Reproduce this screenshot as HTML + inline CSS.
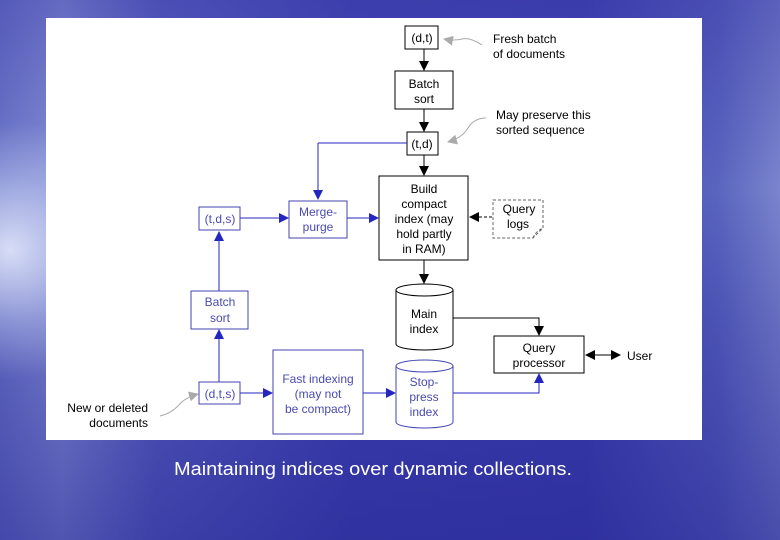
<!DOCTYPE html>
<html><head><meta charset="utf-8"><style>
html,body{margin:0;padding:0;width:780px;height:540px;overflow:hidden}
body{background:linear-gradient(90deg,#6c78c8 0%,#8d98d8 8%,#5a63c0 20%,#3c40b0 45%,#3a3cae 75%,#5560bc 92%,#7b86cc 100%);}
.bg2{position:absolute;left:0;top:0;width:780px;height:540px;background:linear-gradient(180deg,rgba(60,60,170,0.5) 0%,rgba(120,130,210,0.15) 35%,rgba(50,50,160,0.3) 60%,rgba(40,40,150,0.6) 100%)}
.glow{position:absolute;left:-120px;top:120px;width:260px;height:260px;background:radial-gradient(ellipse at center,rgba(235,240,255,0.85) 0%,rgba(200,210,245,0.4) 40%,rgba(150,160,230,0) 70%)}
svg{position:absolute;left:0;top:0}
text{font-family:"Liberation Sans",sans-serif;font-size:12px}
</style></head><body><div class="bg2"></div><div class="glow"></div>
<svg width="780" height="540" viewBox="0 0 780 540">
<defs>
<marker id="ak" markerWidth="10" markerHeight="10" refX="9" refY="5" orient="auto" markerUnits="userSpaceOnUse"><path d="M0,0 L10,5 L0,10 z" fill="#000"/></marker>
<marker id="ab" markerWidth="10" markerHeight="10" refX="9" refY="5" orient="auto" markerUnits="userSpaceOnUse"><path d="M0,0 L10,5 L0,10 z" fill="#2525c0"/></marker>
<marker id="ag" markerWidth="10" markerHeight="10" refX="9" refY="5" orient="auto" markerUnits="userSpaceOnUse"><path d="M0,0 L10,5 L0,10 z" fill="#aaa"/></marker>
<marker id="aks" markerWidth="10" markerHeight="10" refX="1" refY="5" orient="auto" markerUnits="userSpaceOnUse"><path d="M10,0 L0,5 L10,10 z" fill="#000"/></marker>
</defs>
<rect x="46" y="18" width="656" height="422" fill="#fff"/>
<g fill="none" stroke="#000" stroke-width="1">
<rect x="405" y="26" width="33" height="23"/>
<rect x="395" y="71" width="58" height="38"/>
<rect x="407" y="132" width="31" height="23"/>
<rect x="379" y="176" width="89" height="84"/>
<rect x="494" y="336" width="90" height="37"/>
<path d="M396,290 v54 a28.5,6 0 0 0 57,0 v-54"/><ellipse cx="424.5" cy="290" rx="28.5" ry="6"/>
<line x1="424" y1="49" x2="424" y2="70" marker-end="url(#ak)"/>
<line x1="424" y1="109" x2="424" y2="131" marker-end="url(#ak)"/>
<line x1="424" y1="155" x2="424" y2="175" marker-end="url(#ak)"/>
<line x1="424" y1="260" x2="424" y2="283" marker-end="url(#ak)"/>
<path d="M453,318 H539 V335" marker-end="url(#ak)"/>
<line x1="586" y1="355" x2="620" y2="355" marker-start="url(#aks)" marker-end="url(#ak)"/>
<line x1="492" y1="217" x2="470" y2="217" stroke-dasharray="3,2" marker-end="url(#ak)"/>
</g>
<g fill="none" stroke="#666" stroke-dasharray="3,2"><path d="M493,200 H543 V228 L533,238 H493 z"/><path d="M533,238 q2,-6 10,-10"/></g>
<g fill="none" stroke="#2525c0" stroke-width="1">
<line x1="407" y1="143" x2="318" y2="143"/><line x1="318" y1="143" x2="318" y2="199" marker-end="url(#ab)"/>
<line x1="240" y1="218" x2="288" y2="218" marker-end="url(#ab)"/>
<line x1="347" y1="218" x2="378" y2="218" marker-end="url(#ab)"/>
<line x1="219" y1="291" x2="219" y2="232" marker-end="url(#ab)"/>
<line x1="219" y1="382" x2="219" y2="330" marker-end="url(#ab)"/>
<line x1="240" y1="393" x2="272" y2="393" marker-end="url(#ab)"/>
<line x1="363" y1="393" x2="395" y2="393" marker-end="url(#ab)"/>
<path d="M453,393 H539 V374" marker-end="url(#ab)"/>
</g>
<g fill="none" stroke="#4444b0">
<rect x="199" y="207" width="41" height="23"/>
<rect x="289" y="201" width="58" height="37"/>
<rect x="191" y="291" width="57" height="38"/>
<rect x="199" y="382" width="41" height="22"/>
<rect x="273" y="350" width="90" height="84"/>
<path d="M396,366 v56 a28.5,6 0 0 0 57,0 v-56"/><ellipse cx="424.5" cy="366" rx="28.5" ry="6"/>
</g>
<g fill="none" stroke="#aaa">
<path d="M482,45 q-12,-8 -20,-6 q-8,2 -18,0" marker-end="url(#ag)"/>
<path d="M486,118 q-12,0 -18,10 q-6,10 -20,14" marker-end="url(#ag)"/>
<path d="M160,416 q10,-2 18,-10 q6,-8 20,-12" marker-end="url(#ag)"/>
</g>
<g fill="#000" text-anchor="middle">
<text x="422" y="42">(d,t)</text>
<text x="424" y="88">Batch</text><text x="424" y="103">sort</text>
<text x="422" y="148">(t,d)</text>
<text x="424" y="193">Build</text><text x="424" y="208">compact</text><text x="424" y="223">index (may</text><text x="424" y="238">hold partly</text><text x="424" y="253">in RAM)</text>
<text x="519" y="213">Query</text><text x="518" y="228">logs</text>
<text x="424" y="318">Main</text><text x="424" y="333">index</text>
<text x="539" y="352">Query</text><text x="539" y="367">processor</text>
</g>
<g fill="#000"><text x="627" y="360">User</text>
<text x="493" y="43">Fresh batch</text><text x="493" y="58">of documents</text>
<text x="496" y="119">May preserve this</text><text x="496" y="134">sorted sequence</text>
<text x="148" y="412" text-anchor="end">New or deleted</text><text x="148" y="427" text-anchor="end">documents</text></g>
<g fill="#4a4ab0" text-anchor="middle">
<text x="220" y="223">(t,d,s)</text>
<text x="318" y="216">Merge-</text><text x="318" y="231">purge</text>
<text x="220" y="306">Batch</text><text x="220" y="322">sort</text>
<text x="220" y="398">(d,t,s)</text>
<text x="318" y="383">Fast indexing</text><text x="318" y="398">(may not</text><text x="318" y="413">be compact)</text>
<text x="424" y="386">Stop-</text><text x="424" y="401">press</text><text x="424" y="416">index</text>
</g>
<text x="174" y="475" fill="#fff" style="font-size:18px" textLength="398" lengthAdjust="spacingAndGlyphs">Maintaining indices over dynamic collections.</text>
</svg>
</body></html>
